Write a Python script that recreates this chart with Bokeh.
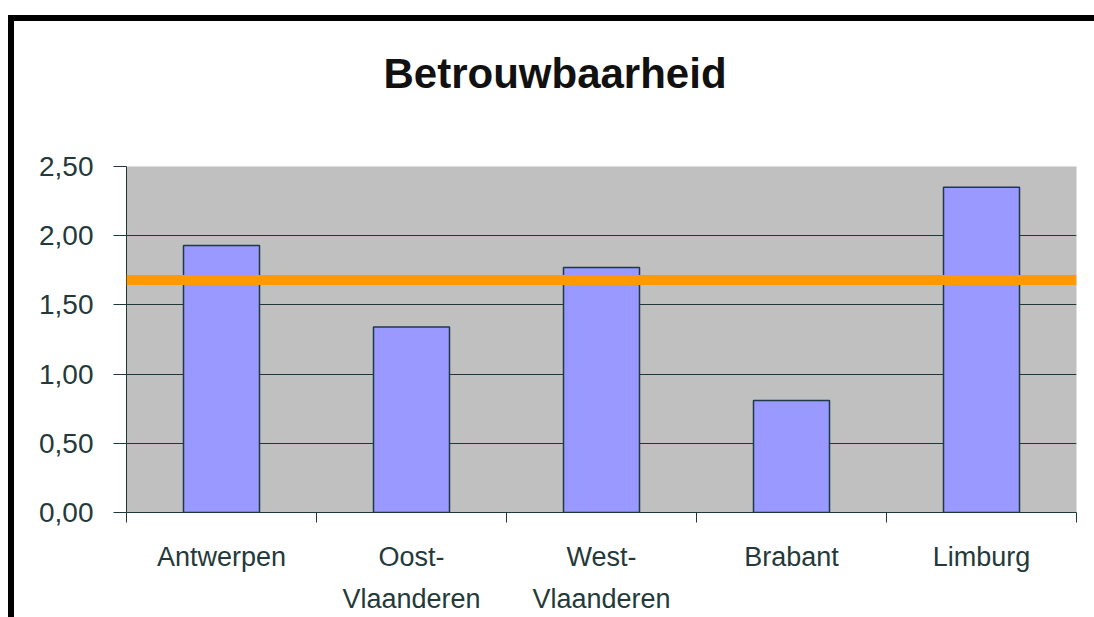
from bokeh.plotting import figure
from bokeh.models import (Range1d, LinearAxis, FixedTicker, CustomJSTickFormatter,
                          Span, Grid, InlineStyleSheet)
from bokeh.embed import file_html
from bokeh.resources import INLINE

# ---- data ----
title_text = "Betrouwbaarheid"
provinces = ["Antwerpen", "Oost-\nVlaanderen", "West-\nVlaanderen", "Brabant", "Limburg"]
scores = [1.93, 1.34, 1.77, 0.81, 2.35]
reference_level = 1.68
y_ticks = [0.0, 0.5, 1.0, 1.5, 2.0, 2.5]

# ---- style ----
FONT = "Liberation Sans"
TXT = "#243a3a"
LINE = "#1e3838"
W, H = 1094, 617

p = figure(width=W, height=H, output_backend="svg", toolbar_location=None,
           x_range=Range1d(0, len(provinces)), y_range=Range1d(0, y_ticks[-1]),
           x_axis_location=None, y_axis_location=None,
           min_border_left=126, min_border_right=18, min_border_top=166, min_border_bottom=105)
p.outline_line_color = None
p.background_fill_color = "#C0C0C0"
p.border_fill_color = "white"
p.grid.visible = False

p.title.text = title_text
p.title.text_font = FONT
p.title.text_font_size = "42px"
p.title.text_font_style = "bold"
p.title.text_color = "#111"
p.title.align = "left"
p.title.offset = 257
p.title.standoff = 20
p.title.padding = dict(left=0, right=0, top=0, bottom=60)

# y axis
yax = LinearAxis(ticker=FixedTicker(ticks=y_ticks),
                 formatter=CustomJSTickFormatter(code="return tick.toFixed(2).replace('.', ',');"))
yax.major_tick_out = 13
yax.major_tick_in = 0
yax.minor_tick_line_color = None
yax.axis_line_color = LINE
yax.major_tick_line_color = LINE
yax.major_label_standoff = 20
yax.major_label_text_font = FONT
yax.major_label_text_font_size = "28px"
yax.major_label_text_color = TXT
p.add_layout(yax, "left")

p.add_layout(Grid(dimension=1, ticker=yax.ticker, grid_line_color=LINE, grid_line_width=1))

# x axis: boundary ticks (no labels)
xt = LinearAxis(ticker=FixedTicker(ticks=list(range(len(provinces) + 1))),
                formatter=CustomJSTickFormatter(code="return '';"))
xt.major_tick_out = 10
xt.major_tick_in = 0
xt.minor_tick_line_color = None
xt.axis_line_color = LINE
xt.major_tick_line_color = LINE
xt.major_label_standoff = 0
p.add_layout(xt, "below")

# x axis: category labels
xl = LinearAxis(ticker=FixedTicker(ticks=[i + 0.5 for i in range(len(provinces))]),
                formatter=CustomJSTickFormatter(args=dict(names=provinces),
                                                code="return names[Math.floor(tick)];"))
xl.axis_line_color = None
xl.major_tick_line_color = None
xl.minor_tick_line_color = None
xl.major_tick_out = 0
xl.major_tick_in = 0
xl.major_label_standoff = 19
xl.major_label_text_font = FONT
xl.major_label_text_font_size = "27px"
xl.major_label_text_color = TXT
xl.major_label_text_line_height = 1.4
p.add_layout(xl, "below")

# bars
p.vbar(x=[i + 0.5 for i in range(len(provinces))], top=scores, width=0.4, bottom=0,
       fill_color="#9999FF", line_color="#1e3a48", line_width=1.5)

# reference line
p.add_layout(Span(location=reference_level, dimension="width",
                  line_color="#FF9900", line_width=10))

# outer black frame (top and left edges of the chart sheet)
p.stylesheets = [InlineStyleSheet(css="""
:host::before { content: ""; position: absolute; left: 8px; top: 15px; width: 1086px; height: 6px;
                background: #000; z-index: 100; pointer-events: none; }
:host::after  { content: ""; position: absolute; left: 8px; top: 15px; width: 6px; height: 602px;
                background: #000; z-index: 100; pointer-events: none; }
""")]

open("out.html", "w").write(file_html(p, INLINE))
